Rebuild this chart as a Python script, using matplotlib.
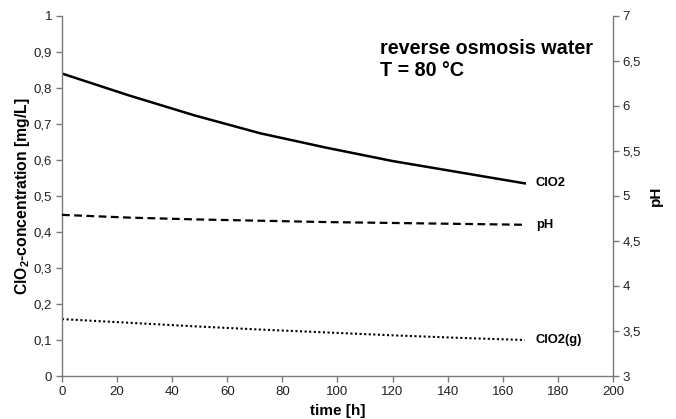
import matplotlib
matplotlib.use('Agg')
import matplotlib.pyplot as plt
from matplotlib.ticker import FuncFormatter

plt.rcParams['font.family'] = ['Liberation Sans', 'DejaVu Sans']
plt.rcParams['mathtext.fontset'] = 'custom'
plt.rcParams['mathtext.rm'] = 'Liberation Sans'
plt.rcParams['mathtext.bf'] = 'Liberation Sans:bold'

# ── data
time_h = [0, 24, 48, 72, 96, 120, 144, 168]
clo2 = [0.84, 0.78, 0.724, 0.674, 0.634, 0.597, 0.566, 0.535]
ph = [4.79, 4.76, 4.74, 4.725, 4.71, 4.70, 4.69, 4.68]
clo2_g = [0.158, 0.148, 0.138, 0.129, 0.121, 0.113, 0.106, 0.100]

AX_C = '#7a7a7a'
TXT = '#222222'

def comma(v, pos):
    s = f'{v:g}'
    return s.replace('.', ',')

fig = plt.figure(figsize=(6.76, 4.19), dpi=100)
ax = fig.add_axes([0.0917, 0.1026, 0.815, 0.8594])
ax2 = ax.twinx()

ax.plot(time_h, clo2, color='black', lw=1.8, solid_joinstyle='miter')
ax.plot(time_h, clo2_g, color='black', lw=1.5, linestyle=(0, (1, 1.2)))
ax2.plot(time_h, ph, color='black', lw=1.6, linestyle=(0, (3.5, 2)))

ax.set_xlim(0, 200)
ax.set_ylim(0, 1)
ax2.set_ylim(3, 7)
ax.set_xticks(range(0, 201, 20))
ax.set_yticks([i / 10 for i in range(11)])
ax2.set_yticks([3 + 0.5 * i for i in range(9)])
ax.yaxis.set_major_formatter(FuncFormatter(comma))
ax2.yaxis.set_major_formatter(FuncFormatter(comma))

for a in (ax, ax2):
    a.spines['top'].set_visible(False)
    for sp in a.spines.values():
        sp.set_color(AX_C)
        sp.set_linewidth(1.0)
    a.tick_params(direction='out', length=4, width=1.0, color=AX_C,
                  labelsize=9.5, labelcolor=TXT, pad=3)
ax2.spines['left'].set_visible(False)
ax2.spines['bottom'].set_visible(False)
ax.spines['right'].set_visible(False)

ax.set_xlabel('time [h]', fontsize=11, fontweight='bold')
ax.xaxis.set_label_coords(0.5, -0.078)
ax.set_ylabel(r'ClO$_\mathbf{2}$-concentration [mg/L]', fontsize=11.3,
              fontweight='bold')
ax.yaxis.set_label_coords(-0.055, 0.5)
ax2.set_ylabel('pH', fontsize=11, fontweight='bold', labelpad=6)

# series labels
ax.text(172, clo2[-1], 'ClO2', fontsize=9.3, fontweight='bold', va='center')
ax.text(172, (ph[-1] - 3) / 4, 'pH', fontsize=9.3, fontweight='bold', va='center')
ax.text(172, clo2_g[-1], 'ClO2(g)', fontsize=9.3, fontweight='bold', va='center')

ax.text(115.5, 0.935, 'reverse osmosis water\nT = 80 °C', fontsize=14.2,
        fontweight='bold', va='top', ha='left', linespacing=1.15)

fig.savefig('out.png', dpi=100)
